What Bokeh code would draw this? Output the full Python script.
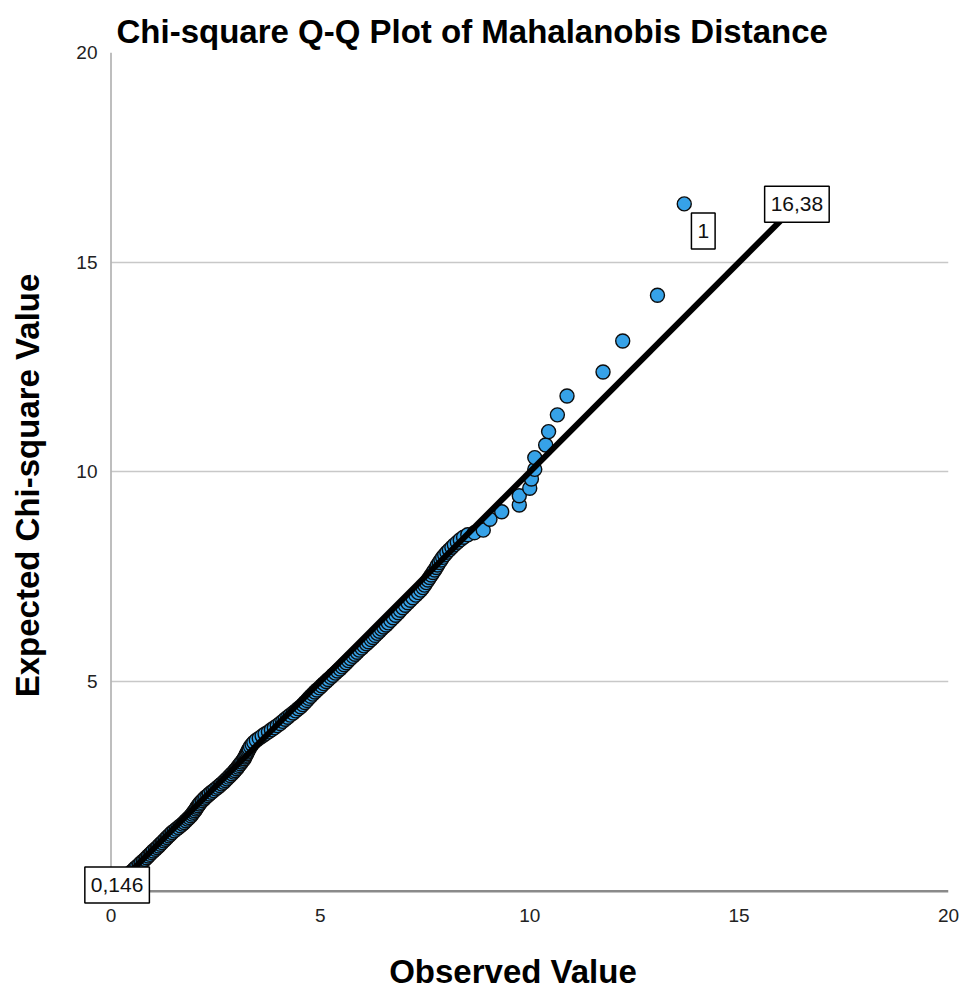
from bokeh.plotting import figure
from bokeh.models import Label, FixedTicker, Range1d, ColumnDataSource
from bokeh.embed import file_html
from bokeh.resources import INLINE

# ---- data (observed distance, expected chi-square) ----
observed = [
    0.42, 0.46, 0.51, 0.55, 0.59, 0.64, 0.68, 0.72, 0.77, 0.81,
    0.85, 0.89, 0.93, 0.97, 1.01, 1.06, 1.10, 1.14, 1.18, 1.22,
    1.26, 1.30, 1.34, 1.38, 1.42, 1.46, 1.51, 1.56, 1.61, 1.66,
    1.71, 1.75, 1.79, 1.83, 1.87, 1.91, 1.94, 1.97, 2.00, 2.03,
    2.05, 2.08, 2.11, 2.14, 2.18, 2.22, 2.26, 2.31, 2.35, 2.40,
    2.45, 2.50, 2.55, 2.60, 2.64, 2.69, 2.73, 2.77, 2.81, 2.85,
    2.89, 2.93, 2.96, 3.00, 3.03, 3.06, 3.09, 3.12, 3.15, 3.18,
    3.20, 3.22, 3.24, 3.26, 3.28, 3.30, 3.33, 3.37, 3.41, 3.47,
    3.54, 3.61, 3.68, 3.76, 3.83, 3.90, 3.97, 4.04, 4.10, 4.16,
    4.22, 4.28, 4.35, 4.41, 4.47, 4.53, 4.58, 4.63, 4.68, 4.72,
    4.77, 4.82, 4.87, 4.92, 4.98, 5.03, 5.08, 5.14, 5.19, 5.25,
    5.30, 5.36, 5.41, 5.47, 5.52, 5.57, 5.62, 5.67, 5.72, 5.78,
    5.83, 5.88, 5.93, 5.99, 6.04, 6.10, 6.15, 6.21, 6.26, 6.31,
    6.36, 6.41, 6.46, 6.51, 6.57, 6.62, 6.68, 6.74, 6.80, 6.86,
    6.91, 6.97, 7.03, 7.09, 7.15, 7.21, 7.28, 7.34, 7.40, 7.45,
    7.49, 7.53, 7.57, 7.61, 7.65, 7.69, 7.73, 7.77, 7.80, 7.84,
    7.88, 7.92, 7.97, 8.02, 8.08, 8.14, 8.20, 8.27, 8.34, 8.42,
    8.52, 8.68, 8.89, 9.05, 9.33, 9.75, 9.75, 10.00, 10.04, 10.12,
    10.12, 10.38, 10.45, 10.66, 10.89, 11.75, 12.22, 13.05, 13.69]
expected = [
    0.40, 0.44, 0.48, 0.52, 0.56, 0.60, 0.64, 0.68, 0.72, 0.76,
    0.80, 0.84, 0.88, 0.92, 0.96, 1.00, 1.04, 1.08, 1.12, 1.16,
    1.20, 1.24, 1.28, 1.32, 1.36, 1.40, 1.44, 1.48, 1.52, 1.56,
    1.60, 1.64, 1.68, 1.72, 1.76, 1.80, 1.84, 1.88, 1.92, 1.96,
    2.00, 2.04, 2.08, 2.12, 2.16, 2.20, 2.24, 2.28, 2.32, 2.36,
    2.40, 2.44, 2.48, 2.52, 2.56, 2.60, 2.64, 2.68, 2.72, 2.76,
    2.80, 2.84, 2.88, 2.92, 2.96, 3.00, 3.04, 3.08, 3.12, 3.16,
    3.20, 3.24, 3.28, 3.32, 3.36, 3.40, 3.45, 3.50, 3.55, 3.60,
    3.65, 3.70, 3.75, 3.80, 3.85, 3.90, 3.95, 4.00, 4.05, 4.10,
    4.15, 4.20, 4.25, 4.30, 4.35, 4.40, 4.45, 4.50, 4.55, 4.60,
    4.65, 4.70, 4.75, 4.80, 4.85, 4.90, 4.95, 5.00, 5.05, 5.10,
    5.15, 5.20, 5.25, 5.30, 5.35, 5.40, 5.45, 5.50, 5.55, 5.60,
    5.65, 5.70, 5.75, 5.80, 5.85, 5.90, 5.95, 6.00, 6.05, 6.10,
    6.15, 6.20, 6.25, 6.30, 6.35, 6.40, 6.46, 6.52, 6.58, 6.64,
    6.70, 6.76, 6.82, 6.88, 6.94, 7.00, 7.06, 7.12, 7.18, 7.24,
    7.30, 7.36, 7.42, 7.48, 7.54, 7.60, 7.66, 7.72, 7.78, 7.84,
    7.90, 7.96, 8.02, 8.08, 8.14, 8.20, 8.26, 8.32, 8.38, 8.44,
    8.50, 8.55, 8.61, 8.87, 9.05, 9.21, 9.43, 9.61, 9.83, 10.06,
    10.34, 10.64, 10.96, 11.36, 11.81, 12.38, 13.12, 14.21, 16.39]
ref_line_x = [0.146, 16.38]
ref_line_y = [0.146, 16.38]
ref_labels = ["0,146", "16,38"]
case_label = "1"
x_ticks = [0, 5, 10, 15, 20]
y_ticks = [5, 10, 15, 20]

FONT = "Liberation Sans"

p = figure(width=962, height=995,
           x_range=Range1d(-0.8, 20), y_range=Range1d(-0.65, 20),
           output_backend="svg", toolbar_location=None,
           min_border_left=77, min_border_right=14,
           min_border_top=52, min_border_bottom=77)

p.title.text = "Chi-square Q-Q Plot of Mahalanobis Distance"
p.title.text_font = FONT
p.title.text_font_size = "33px"
p.title.text_font_style = "bold"
p.title.text_color = "#000000"
p.title.align = "left"
p.title.offset = 39
p.title.standoff = 5

p.outline_line_color = None
p.background_fill_color = "white"

# axes
xa = p.xaxis[0]
xa.ticker = FixedTicker(ticks=x_ticks)
xa.bounds = (x_ticks[0], x_ticks[-1])
xa.axis_label = "Observed Value"
xa.axis_label_text_font = FONT
xa.axis_label_text_font_size = "33px"
xa.axis_label_text_font_style = "bold"
xa.axis_label_text_color = "#000000"
xa.axis_label_standoff = 28
xa.major_label_text_font = FONT
xa.major_label_text_font_size = "19px"
xa.major_label_text_color = "#222222"
xa.major_label_standoff = -10
xa.major_tick_out = 0
xa.major_tick_in = 0
xa.major_tick_line_color = None
xa.minor_tick_line_color = None
xa.axis_line_color = None

ya = p.yaxis[0]
ya.ticker = FixedTicker(ticks=y_ticks)
ya.bounds = (x_ticks[0], y_ticks[-1])
ya.axis_label = "Expected Chi-square Value"
ya.axis_label_text_font = FONT
ya.axis_label_text_font_size = "33px"
ya.axis_label_text_font_style = "bold"
ya.axis_label_text_color = "#000000"
ya.axis_label_standoff = 27
ya.major_label_text_font = FONT
ya.major_label_text_font_size = "19px"
ya.major_label_text_color = "#222222"
ya.major_label_standoff = -20
ya.major_label_orientation = "horizontal"
ya.major_tick_out = 0
ya.major_tick_in = 0
ya.major_tick_line_color = None
ya.minor_tick_line_color = None
ya.axis_line_color = None

p.xgrid.visible = False
p.ygrid.grid_line_color = "#c8c8c8"
p.ygrid.grid_line_width = 1.5
p.ygrid.cross_bounds = (x_ticks[0], x_ticks[-1])

# axis lines at the data origin
p.segment(x0=[x_ticks[0]], y0=[x_ticks[0]], x1=[x_ticks[0]], y1=[y_ticks[-1]],
          line_color="#a8a8a8", line_width=1.5)
p.segment(x0=[x_ticks[0]], y0=[x_ticks[0]], x1=[x_ticks[-1]], y1=[x_ticks[0]],
          line_color="#8a8a8a", line_width=2.5)

src = ColumnDataSource(data=dict(obs=observed, exp=expected))
p.scatter("obs", "exp", source=src, size=14, fill_color="#36A2E8",
          line_color="#0d0d0d", line_width=1.4)

p.line(ref_line_x, ref_line_y, line_color="black", line_width=6)

for lx, ly, txt in zip(ref_line_x, ref_line_y, ref_labels):
    p.add_layout(Label(x=lx, y=ly, text=txt, text_align="center",
                       text_baseline="middle", text_font=FONT,
                       text_font_size="21px", text_color="#111111",
                       background_fill_color="white",
                       border_line_color="black", border_line_width=1.5,
                       padding=(6, 11)))

p.add_layout(Label(x=observed[-1], y=expected[-1], text=case_label,
                   x_offset=19, y_offset=-27,
                   text_align="center", text_baseline="middle",
                   text_font=FONT, text_font_size="21px", text_color="#111111",
                   background_fill_color="white",
                   border_line_color="black", border_line_width=1.5,
                   padding=(6, 11)))

open("out.html", "w").write(file_html(p, INLINE))
